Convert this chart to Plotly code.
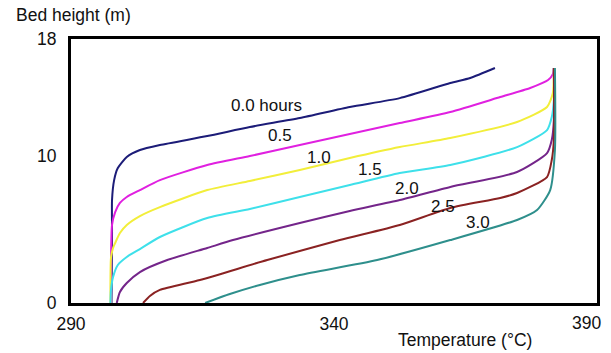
import plotly.graph_objects as go

# ---- data (temperature °C, bed height m) ----
t_00 = [297.7, 297.8, 297.8, 298.2, 298.9, 300.6, 303.1, 306.9, 315.9, 324.0, 333.5, 343.0, 352.5, 362.1, 365.9, 370.6]
h_00 = [0.0, 4.84, 7.02, 8.38, 9.20, 9.95, 10.43, 10.77, 11.38, 12.00, 12.61, 13.36, 13.97, 15.0, 15.34, 16.02]

t_05 = [297.6, 297.8, 298.4, 299.3, 300.6, 303.1, 306.9, 315.9, 324.0, 333.5, 343.0, 352.5, 362.1, 371.6, 377.3, 380.7, 381.6, 381.8]
h_05 = [0.0, 5.32, 6.20, 6.82, 7.23, 7.70, 8.38, 9.41, 10.02, 10.77, 11.52, 12.27, 13.02, 14.04, 14.66, 15.20, 15.61, 16.02]

t_10 = [297.5, 297.6, 298.0, 298.4, 299.3, 300.6, 303.1, 306.9, 315.9, 324.0, 333.5, 343.0, 352.5, 362.1, 374.8, 380.5, 381.6, 381.8]
h_10 = [0.0, 3.07, 3.75, 4.09, 4.77, 5.32, 5.93, 6.54, 7.70, 8.32, 9.07, 9.88, 10.63, 11.25, 12.34, 13.36, 14.31, 16.02]

t_15 = [297.5, 297.6, 298.0, 298.9, 300.6, 303.1, 306.9, 315.9, 324.0, 333.5, 343.0, 352.5, 362.1, 374.8, 380.5, 381.4, 381.8, 381.8]
h_15 = [0.0, 0.89, 1.77, 2.59, 3.14, 3.68, 4.50, 5.79, 6.41, 7.23, 8.04, 8.86, 9.41, 10.63, 11.79, 12.68, 13.84, 16.02]

t_20 = [298.7, 299.3, 300.6, 303.1, 308.3, 315.9, 320.8, 333.5, 343.0, 352.5, 362.1, 374.8, 380.5, 381.4, 381.8, 381.8]
h_20 = [0.0, 0.75, 1.36, 2.11, 2.93, 3.75, 4.29, 5.45, 6.27, 7.02, 7.91, 8.93, 10.22, 11.11, 12.47, 16.02]

t_25 = [303.7, 305.0, 306.9, 314.5, 327.3, 341.1, 352.5, 362.1, 371.6, 374.8, 380.5, 381.4, 381.8, 381.8]
h_25 = [0.0, 0.48, 0.89, 1.57, 2.93, 4.29, 5.32, 6.48, 7.16, 7.50, 8.59, 9.75, 11.11, 16.02]

t_30 = [315.5, 320.2, 325.9, 333.5, 348.2, 362.1, 374.8, 378.6, 381.1, 382.0, 382.0]
h_30 = [0.0, 0.61, 1.23, 1.91, 2.93, 4.29, 5.66, 6.34, 7.70, 10.43, 16.02]

series_names = ["0.0 hours", "0.5", "1.0", "1.5", "2.0", "2.5", "3.0"]
series_t = [t_00, t_05, t_10, t_15, t_20, t_25, t_30]
series_h = [h_00, h_05, h_10, h_15, h_20, h_25, h_30]
colors = ["#1c1c78", "#e020e0", "#f2ee3a", "#3ee0ea", "#74258a", "#8a2222", "#2e8f8c"]

label_t = [327.1, 329.7, 337.1, 346.8, 353.9, 360.7, 367.4]
label_h = [13.5, 11.45, 9.95, 9.07, 7.84, 6.61, 5.52]

x_ticks = [290, 340, 390]
y_ticks = [0, 10, 18]

FONT = "Liberation Sans, Arial, sans-serif"
TICKFONT = dict(family=FONT, size=17.5, color="#111")

fig = go.Figure()
for name, t, h, c in zip(series_names, series_t, series_h, colors):
    fig.add_trace(go.Scatter(x=t, y=h, mode="lines", name=name,
                             line=dict(color=c, width=2, shape="spline", smoothing=0.6),
                             showlegend=False, hoverinfo="skip"))

for name, lt, lh in zip(series_names, label_t, label_h):
    fig.add_annotation(x=lt, y=lh, text=name, showarrow=False,
                       font=dict(family=FONT, size=17, color="#111"))

# last x tick label sits at the right edge of the page: draw it right-anchored
fig.add_annotation(x=x_ticks[-1], xref="x", y=0, yref="paper", text=str(x_ticks[-1]),
                   showarrow=False, xanchor="right", yanchor="middle",
                   xshift=6, yshift=-20, font=TICKFONT)

fig.add_annotation(xref="paper", yref="paper", x=-0.108, y=1.091, text="Bed height (m)",
                   showarrow=False, xanchor="left", yanchor="middle",
                   font=dict(family=FONT, size=17.5, color="#111"))
fig.add_annotation(xref="paper", yref="paper", x=0.749, y=-0.140, text="Temperature (°C)",
                   showarrow=False, xanchor="center", yanchor="middle",
                   font=dict(family=FONT, size=17.5, color="#111"))

fig.update_xaxes(range=[290, 390], tickvals=x_ticks[:-1],
                 showgrid=False, zeroline=False, automargin=False,
                 showline=True, mirror=True, linecolor="black", linewidth=3,
                 ticks="outside", ticklen=3, tickcolor="rgba(0,0,0,0)",
                 tickfont=TICKFONT)
fig.update_yaxes(range=[0, 18], tickvals=y_ticks, showgrid=False, zeroline=False,
                 automargin=False,
                 showline=True, mirror=True, linecolor="black", linewidth=3,
                 ticks="outside", ticklen=8, tickcolor="rgba(0,0,0,0)",
                 tickfont=TICKFONT)

# page body has an 8px margin, so the figure is 603x345 to fill the 611x353 window
fig.update_layout(width=603, height=345, margin=dict(l=63, r=14, t=31, b=50),
                  paper_bgcolor="white", plot_bgcolor="white")

fig.write_html("out.html")
